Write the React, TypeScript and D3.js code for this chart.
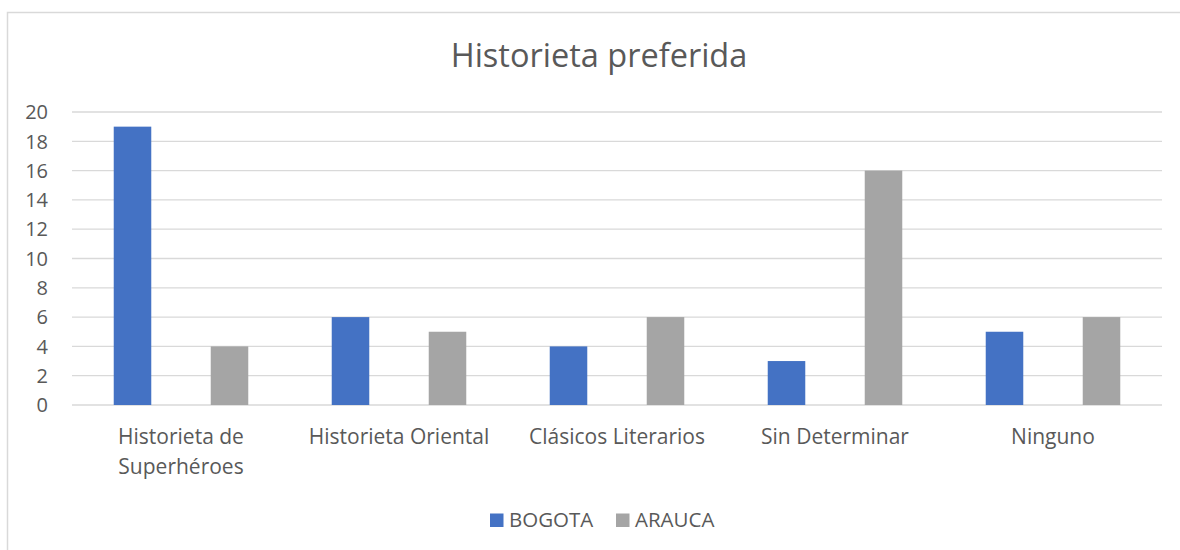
import React from 'react';
import * as d3 from 'd3';

const categories = [
  ['Historieta de', 'Superhéroes'],
  ['Historieta Oriental'],
  ['Clásicos Literarios'],
  ['Sin Determinar'],
  ['Ninguno'],
];
const series = ['BOGOTA', 'ARAUCA'];
const bogota = [19, 6, 4, 3, 5];
const arauca = [4, 5, 6, 16, 6];
const yTicks = [0, 2, 4, 6, 8, 10, 12, 14, 16, 18, 20];

const colors: Record<string, string> = { BOGOTA: '#4472C4', ARAUCA: '#A5A5A5' };
const font = '"Open Sans", "Noto Sans", sans-serif';
const textColor = '#595959';

const App: React.FC = () => {
  const width = 1180;
  const height = 550;
  const keys = categories.map((c) => c.join(' '));
  const values: Record<string, number[]> = { BOGOTA: bogota, ARAUCA: arauca };

  const x0 = d3.scaleBand<string>().domain(keys).range([72, 1162]).padding(0);
  const bw = x0.bandwidth();
  // two bars per group, centres 97px apart
  const x1 = d3
    .scaleBand<string>()
    .domain(series)
    .range([bw / 2 - 97, bw / 2 + 97])
    .paddingInner(0.613)
    .paddingOuter(0.3065);
  const y = d3.scaleLinear().domain([0, 20]).range([405, 112]);

  return (
    <svg
      width={width}
      height={height}
      style={{ position: 'absolute', left: 0, top: 0, background: '#fff' }}
      fontFamily={font}
    >
      <rect x={0} y={0} width={width} height={height} fill="#fff" />
      {/* chart frame, runs off the right and bottom edge */}
      <path d={`M7.5,${height + 5} V12.5 H${width + 5}`} fill="none" stroke="#D9D9D9" strokeWidth={1.5} />

      <text x={599} y={67} textAnchor="middle" fontSize={32.5} fill={textColor}>
        Historieta preferida
      </text>

      {yTicks.map((t) => (
        <g key={t}>
          <line x1={72} x2={1162} y1={y(t)} y2={y(t)} stroke="#D9D9D9" strokeWidth={1.3} />
          <text x={48} y={y(t)} dy="0.36em" textAnchor="end" fontSize={20} fill={textColor}>
            {t}
          </text>
        </g>
      ))}

      {keys.map((k, i) => (
        <g key={k} transform={`translate(${x0(k)},0)`}>
          {series.map((s) => {
            const v = values[s][i];
            return (
              <rect
                key={s}
                x={x1(s)}
                y={y(v)}
                width={x1.bandwidth()}
                height={y(0) - y(v)}
                fill={colors[s]}
              />
            );
          })}
          <text textAnchor="middle" fontSize={21} fill={textColor}>
            {categories[i].map((line, j) => (
              <tspan key={j} x={bw / 2} y={444 + j * 30}>
                {line}
              </tspan>
            ))}
          </text>
        </g>
      ))}

      <g>
        {series.map((s, i) => {
          const lx = i === 0 ? 490 : 616;
          return (
            <g key={s}>
              <rect x={lx} y={513.5} width={13.5} height={13.5} fill={colors[s]} />
              <text x={lx + 19} y={527} fontSize={20.5} fill={textColor}>
                {s}
              </text>
            </g>
          );
        })}
      </g>
    </svg>
  );
};

export default App;
